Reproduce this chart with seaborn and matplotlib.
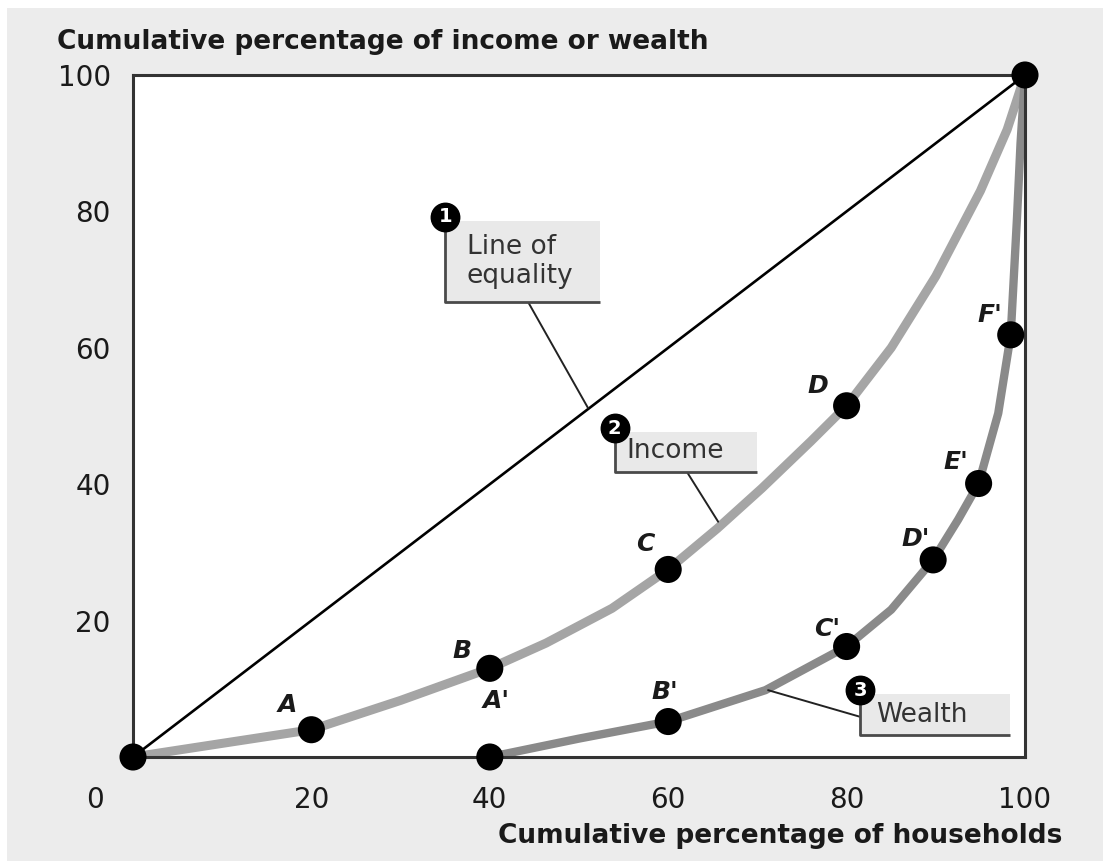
import seaborn as sns
import matplotlib.pyplot as plt
import pandas as pd
from matplotlib.patches import Rectangle

# values
income_x = [0, 9.5, 20, 30, 40, 46.3, 53.7, 60, 65.5, 70.5, 76, 80, 85, 90, 95, 98, 100]
income_y = [0, 1.9, 4, 8.3, 13, 16.7, 21.8, 27.5, 33.5, 39.4, 46.3, 51.5, 60, 70.5, 83,
            92, 100]
wealth_x = [40, 50, 60, 70.9, 80, 85, 89.7, 92.5, 94.8, 97, 98.4, 99.1, 99.5, 100]
wealth_y = [0, 2.7, 5.2, 9.8, 16.2, 21.6, 28.9, 34.8, 40.1, 50.4, 61.9, 79, 90, 100]

income_pts_x = [0, 20, 40, 60, 80, 100]
income_pts_y = [0, 4, 13, 27.5, 51.5, 100]
income_names = ["", "A", "B", "C", "D", ""]
wealth_pts_x = [40, 60, 80, 89.7, 94.8, 98.4]
wealth_pts_y = [0, 5.2, 16.2, 28.9, 40.1, 61.9]
wealth_names = ["A'", "B'", "C'", "D'", "E'", "F'"]

ticks = [20, 40, 60, 80, 100]

BG = "#ececec"
TXT = "#1a1a1a"


def draw_callout(ax, num, x0, x1, y0, y1, text, tx, ty, lead):
    """ boxed label with numbered badge and leader line """
    ax.add_patch(Rectangle((x0, y0), x1 - x0, y1 - y0, facecolor="#e9e9e9",
                           edgecolor="none", zorder=5))
    ax.plot([x0, x0, x1], [y1, y0, y0], color="#4a4a4a", lw=2, zorder=6,
            solid_capstyle="butt")
    ax.plot(lead[0], lead[1], color="#222222", lw=1.4, zorder=4)
    ax.scatter([x0], [y1 + 0.6], s=420, color="black", zorder=7, clip_on=False)
    ax.text(x0, y1 + 0.6, str(num), color="white", fontsize=14, fontweight="bold",
            ha="center", va="center", zorder=8)
    ax.text(tx, ty, text, fontsize=19, color="#333333", ha="left", va="center",
            zorder=8, linespacing=1.15)


def plot_lorenz():
    sns.set_style("white")
    plt.rcParams["font.family"] = ["DejaVu Sans"]

    fig = plt.figure(figsize=(11.03, 8.61), dpi=100, facecolor="white")
    fig.patches.append(Rectangle((7 / 1103, 0), 1, 1 - 8 / 861, transform=fig.transFigure,
                                 facecolor=BG, edgecolor="none", zorder=-10))
    ax = fig.add_axes([133 / 1103, 1 - 757 / 861, (1025 - 133) / 1103, (757 - 75) / 861])
    ax.set_facecolor("white")

    df_inc = pd.DataFrame({"x": income_x, "y": income_y})
    df_wea = pd.DataFrame({"x": wealth_x, "y": wealth_y})

    ax.plot([0, 100], [0, 100], color="black", lw=1.9, zorder=2)
    sns.lineplot(data=df_inc, x="x", y="y", sort=False, color="#a5a5a5", lw=6.5, ax=ax,
                 zorder=3, solid_joinstyle="round")
    sns.lineplot(data=df_wea, x="x", y="y", sort=False, color="#8a8a8a", lw=6, ax=ax,
                 zorder=3, solid_joinstyle="round")

    pts = pd.DataFrame({"x": income_pts_x + wealth_pts_x, "y": income_pts_y + wealth_pts_y})
    sns.scatterplot(data=pts, x="x", y="y", s=380, color="black", edgecolor="none", ax=ax,
                    zorder=6, clip_on=False)

    # point letters
    inc_off = {"A": (-2.7, 3.6), "B": (-3.1, 2.6), "C": (-2.6, 3.8), "D": (-3.2, 2.9)}
    for x, y, n in zip(income_pts_x, income_pts_y, income_names):
        if n:
            dx, dy = inc_off[n]
            ax.text(x + dx, y + dy, n, fontsize=18, fontweight="bold", style="italic",
                    color=TXT, ha="center", va="center", zorder=8)
    wea_off = {"A'": (0.7, 8.2), "B'": (-0.4, 4.3), "C'": (-2.2, 2.6), "D'": (-2.0, 3.1),
               "E'": (-2.6, 3.2), "F'": (-2.3, 2.9)}
    for x, y, n in zip(wealth_pts_x, wealth_pts_y, wealth_names):
        dx, dy = wea_off[n]
        ax.text(x + dx, y + dy, n, fontsize=18, fontweight="bold", style="italic",
                color=TXT, ha="center", va="center", zorder=8)

    draw_callout(ax, 1, 35.0, 52.4, 66.7, 78.6, "Line of\nequality", 37.4, 72.6,
                 ([44.3, 51.0], [66.7, 51.2]))
    draw_callout(ax, 2, 54.0, 70.0, 41.8, 47.6, "Income", 55.3, 44.8,
                 ([62.1, 65.6], [41.8, 34.5]))
    draw_callout(ax, 3, 81.5, 98.3, 3.2, 9.2, "Wealth", 83.3, 6.2,
                 ([81.5, 71.2], [5.9, 9.8]))

    ax.set_xlim(0, 100)
    ax.set_ylim(0, 100)
    ax.set_xticks(ticks)
    ax.set_yticks(ticks)
    ax.set_xticklabels([str(t) for t in ticks])
    ax.set_yticklabels([str(t) for t in ticks])
    ax.tick_params(axis="x", direction="inout", length=16, width=1.3, color="#333333",
                   labelsize=20, pad=13, labelcolor=TXT)
    ax.tick_params(axis="y", direction="inout", length=16, width=1.3, color="#333333",
                   labelsize=20, pad=8, labelcolor=TXT)
    ax.yaxis.get_major_ticks()[-1].tick1line.set_visible(False)
    ax.xaxis.get_major_ticks()[-1].tick1line.set_visible(False)
    ax.set_xlabel("")
    ax.set_ylabel("")
    for sp in ax.spines.values():
        sp.set_color("#333333")
        sp.set_linewidth(2.2)
        sp.set_zorder(4)

    fig.text(95 / 1103, 1 - 800 / 861, "0", fontsize=20, color=TXT, ha="center", va="center")
    fig.text(57 / 1103, 1 - 42 / 861, "Cumulative percentage of income or wealth",
             fontsize=19, fontweight="bold", color=TXT, ha="left", va="center")
    fig.text(1062 / 1103, 1 - 836 / 861, "Cumulative percentage of households",
             fontsize=19, fontweight="bold", color=TXT, ha="right", va="center")

    plt.savefig("out.png", dpi=100, facecolor=fig.get_facecolor())


if __name__ == "__main__":
    plot_lorenz()
